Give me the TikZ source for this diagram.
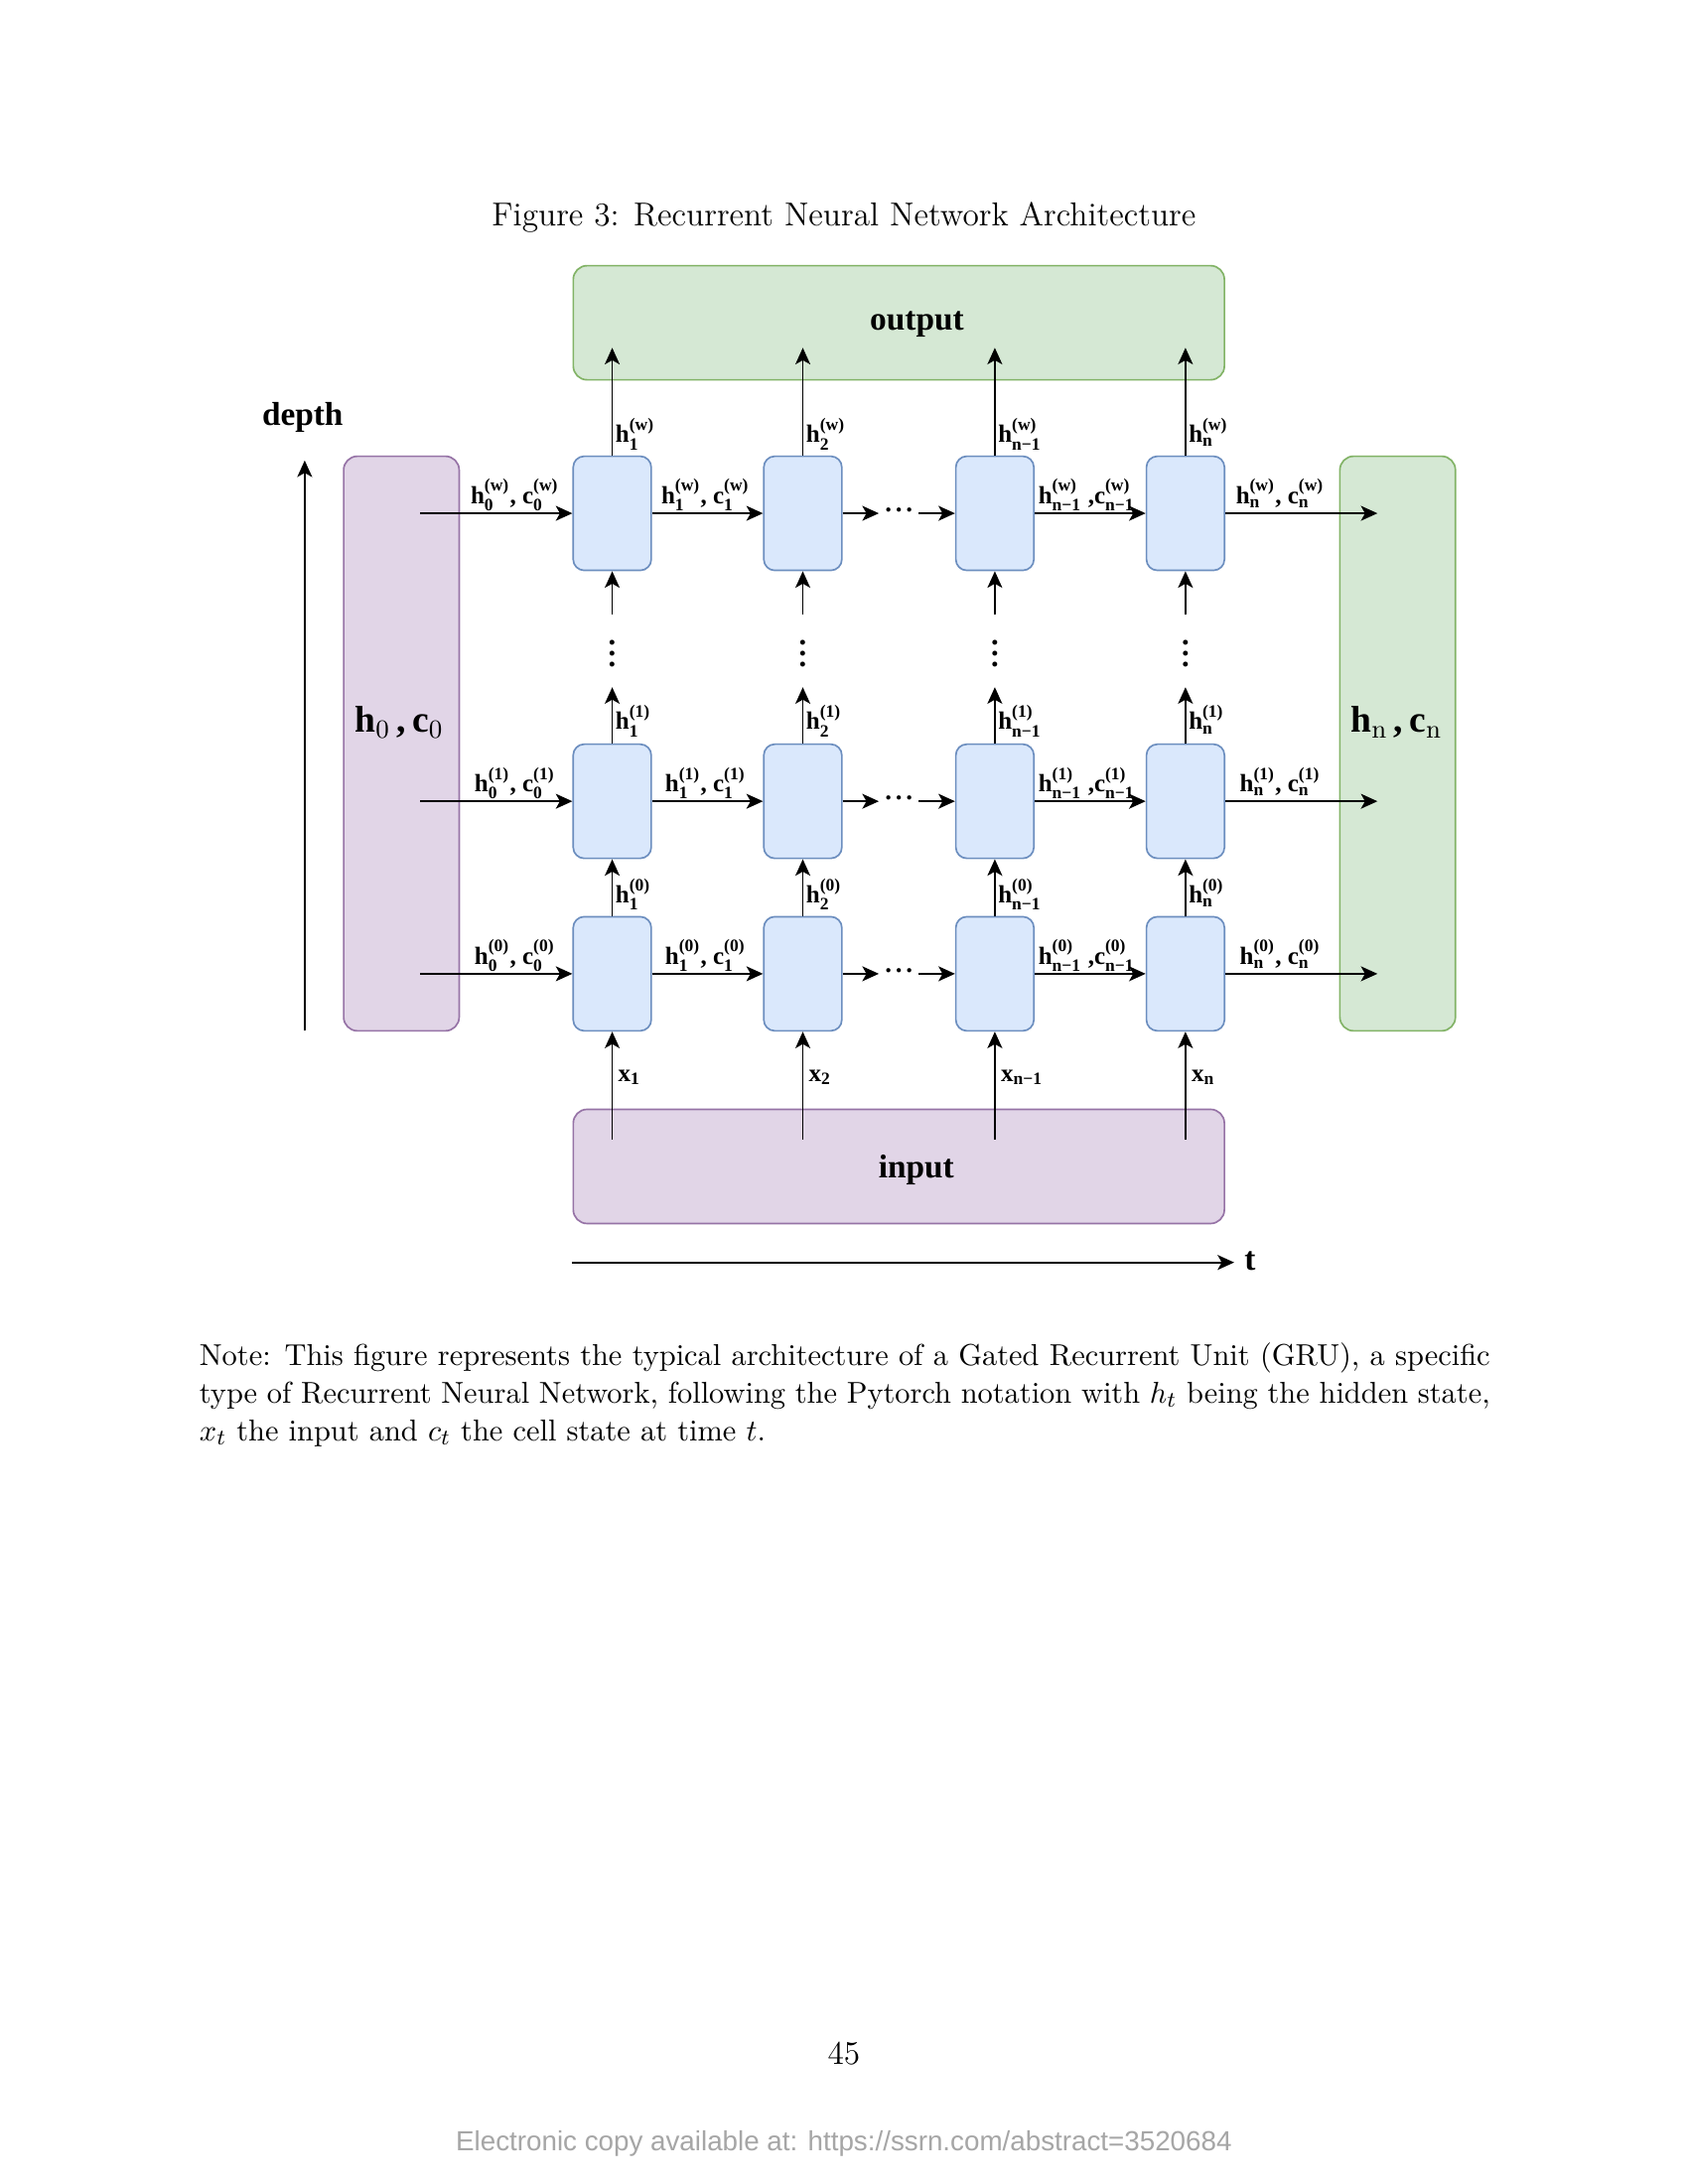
\documentclass[tikz,border=0pt]{standalone}
\usepackage{fontspec}
\newfontfamily\tms{Liberation Serif}
\newfontfamily\arl{Liberation Sans}
\usetikzlibrary{arrows.meta}
\definecolor{pfill}{HTML}{E1D5E7}\definecolor{pdraw}{HTML}{9673A6}
\definecolor{gfill}{HTML}{D5E8D4}\definecolor{gdraw}{HTML}{82B366}
\definecolor{bfill}{HTML}{DAE8FC}\definecolor{bdraw}{HTML}{6C8EBF}
\newcommand\scr{\fontsize{6.3}{6.3}\selectfont}
\newcommand\hv[3]{#1$^{\mbox{\scr(#3)}}_{\mbox{\scr #2}}$}
\tikzset{
  cell/.style={draw=bdraw, fill=bfill, rounded corners=4pt, minimum width=28.3pt, minimum height=41.4pt, inner sep=0pt, line width=0.6pt},
  bigbox/.style={rounded corners=5pt, inner sep=0pt, line width=0.6pt},
  arr/.style={-{Stealth[length=6pt,width=5.4pt,inset=1.5pt]}, line width=0.65pt},
  lbl/.style={font=\tms\bfseries\fontsize{9}{9}\selectfont, inner sep=0pt},
  big/.style={font=\tms\bfseries\fontsize{12}{14}\selectfont, inner sep=0pt},
  huge/.style={font=\tms\bfseries\fontsize{13.5}{15}\selectfont, inner sep=0pt},
  dotsn/.style={font=\tms\bfseries\fontsize{9.5}{10}\selectfont, inner sep=0pt, minimum width=14.1pt},
  vdotsn/.style={font=\tms\bfseries\fontsize{11}{11}\selectfont, inner xsep=0pt, inner ysep=3pt}
}
\begin{document}
\begin{tikzpicture}[x=0.50453pt, y=-0.50453pt]
\useasboundingbox (0,0) rectangle (1213,1570);
\fill[white] (0,0) rectangle (1213,1570);

% caption
\node[anchor=base, inner sep=0pt, font=\fontsize{12}{14}\selectfont] (cap) at (606.5,162.5) {Figure 3: Recurrent Neural Network Architecture};

% big boxes
\node[bigbox, draw=gdraw, fill=gfill, minimum width=236.1pt, minimum height=41.4pt] (out) at (646,232) {};
\node[big, anchor=base] (outl) at (659,237.5) {output};
\node[bigbox, draw=pdraw, fill=pfill, minimum width=236.1pt, minimum height=41.4pt] (in) at (646,838.5) {};
\node[big, anchor=base] (inl) at (658.5,847) {input};
\node[bigbox, draw=pdraw, fill=pfill, minimum width=41.9pt, minimum height=208.4pt] (left) at (288.5,534.5) {};
\node[huge, anchor=base] (leftl) at (287,526.6) {h$_{\mathrm{0}}$\,,\,c$_{\mathrm{0}}$};
\node[bigbox, draw=gdraw, fill=gfill, minimum width=41.9pt, minimum height=208.4pt] (right) at (1004.5,534.5) {};
\node[huge, anchor=base] (rightl) at (1003.7,526.6) {h$_{\mathrm{n}}$\,,\,c$_{\mathrm{n}}$};

% axes
\coordinate (dbot) at (219,741);
\coordinate (dtop) at (219,331);
\draw[arr] (dbot) -- (dtop);
\node[big, anchor=base] (depthl) at (217.5,305.5) {depth};
\coordinate (tl) at (411,907.5);
\coordinate (tr) at (887,907.5);
\draw[arr] (tl) -- (tr);
\node[big, anchor=base west] (tlab) at (894,913) {t};

% cells
\foreach \c/\x in {1/440,2/577,3/715,4/852}{
  \node[cell] (r2c\c) at (\x,369) {};
  \node[cell] (r1c\c) at (\x,576) {};
  \node[cell] (r0c\c) at (\x,700) {};
}

% horizontal connections
\foreach \r/\y/\s in {2/369/w,1/576/1,0/700/0}{
  \coordinate (ls\r) at (302,\y);
  \coordinate (re\r) at (990,\y);
  \draw[arr] (ls\r) -- (r\r c1.west);
  \draw[arr] (r\r c1.east) -- (r\r c2.west);
  \node[dotsn] (dt\r) at (646,\y) {·\hspace{0.6pt}·\hspace{0.6pt}·};
  \draw[arr] (r\r c2.east) -- (dt\r.west);
  \draw[arr] (dt\r.east) -- (r\r c3.west);
  \draw[arr] (r\r c3.east) -- (r\r c4.west);
  \draw[arr] (r\r c4.east) -- (re\r);
  \node[lbl, anchor=base] at (370,\y-7) {\hv{h}{0}{\s}, \hv{c}{0}{\s}};
  \node[lbl, anchor=base] at (507,\y-7) {\hv{h}{1}{\s}, \hv{c}{1}{\s}};
  \node[lbl, anchor=base] at (781,\y-7) {\hv{h}{n−1}{\s} ,\hv{c}{n−1}{\s}};
  \node[lbl, anchor=base] at (920,\y-7) {\hv{h}{n}{\s}, \hv{c}{n}{\s}};
}

% vertical connections
\foreach \c/\x/\k in {1/440/1,2/577/2,3/715/n−1,4/852/n}{
  \coordinate (oe\c) at (\x,250);
  \coordinate (ua\c) at (\x,494);
  \coordinate (ib\c) at (\x,819);
  \draw[arr] (r2c\c.north) -- (oe\c);
  \node[lbl, anchor=base west] at (\x+2,318) {\hv{h}{\k}{w}};
  \draw[arr] (r1c\c.north) -- (ua\c);
  \node[lbl, anchor=base west] at (\x+2,524.5) {\hv{h}{\k}{1}};
  \node[vdotsn] (vd\c) at (\x,464) {$\vdots$};
  \draw[arr] (vd\c.north) -- (r2c\c.south);
  \draw[arr] (r0c\c.north) -- (r1c\c.south);
  \node[lbl, anchor=base west] at (\x+2,649) {\hv{h}{\k}{0}};
  \draw[arr] (ib\c) -- (r0c\c.south);
  \node[lbl, anchor=base west] at (\x+4,777.5) {x$_{\mbox{\scr \k}}$};
}

% note
\node[anchor=north west, inner sep=0pt, text width=468pt, align=justify, font=\fontsize{10.95}{13.6}\selectfont] (note) at (143,965) {Note: This figure represents the typical architecture of a Gated Recurrent Unit (GRU), a specific type of Recurrent Neural Network, following the Pytorch notation with $h_t$ being the hidden state, $x_t$ the input and $c_t$ the cell state at time $t$.};

% page number and footer
\node[anchor=base, inner sep=0pt, font=\fontsize{12}{14}\selectfont] (pg) at (606.5,1484) {45};
\node[anchor=base, inner sep=0pt, font=\arl\fontsize{10}{12}\selectfont, text=gray!70] (foot) at (606.5,1546) {Electronic copy available at: https://ssrn.com/abstract=3520684};
\end{tikzpicture}
\end{document}
